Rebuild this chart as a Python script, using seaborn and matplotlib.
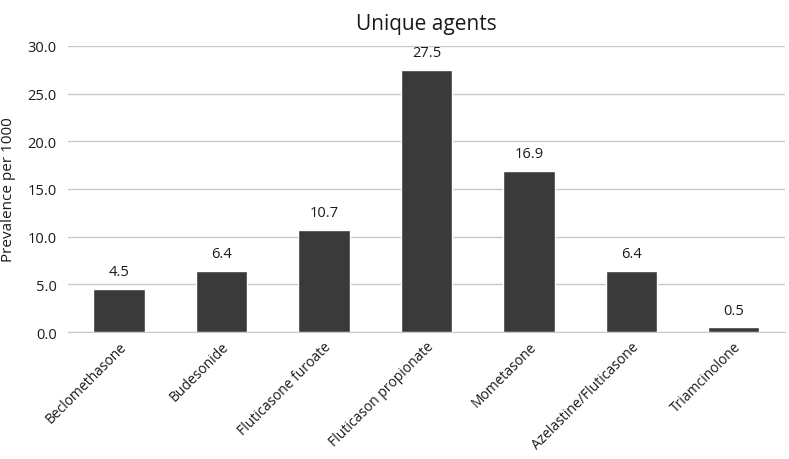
import matplotlib
matplotlib.use("Agg")
import matplotlib.pyplot as plt
import seaborn as sns
import pandas as pd

# Data
agents = ['Beclomethasone', 'Budesonide', 'Fluticasone furoate', 'Fluticason propionate',
          'Mometasone', 'Azelastine/Fluticasone', 'Triamcinolone']
prevalence = [4.5, 6.4, 10.7, 27.5, 16.9, 6.4, 0.5]
y_ticks = [0, 5, 10, 15, 20, 25, 30]

df = pd.DataFrame({'Agent': agents, 'Prevalence': prevalence})

sns.set_style('white')
plt.rcParams['font.family'] = ['Open Sans', 'DejaVu Sans']

fig = plt.figure(figsize=(7.89, 4.60), dpi=100)
ax = fig.add_axes([0.086, 0.276, 0.909, 0.622])

sns.barplot(data=df, x='Agent', y='Prevalence', color='#3a3a3a', width=0.5,
            saturation=1, ax=ax, zorder=3)

# value labels above bars
for i, v in enumerate(prevalence):
    ax.text(i, v + 1.8, f'{v:.1f}', ha='center', va='center', fontsize=10.5, color='#1a1a1a')

ax.set_ylim(0, 30)
ax.set_yticks(y_ticks)
ax.set_yticklabels([f'{t:.1f}' for t in y_ticks], fontsize=10.5, color='#1a1a1a')
ax.yaxis.grid(True, color='#c8c8c8', linewidth=1, zorder=0)
ax.set_axisbelow(True)
ax.tick_params(axis='y', length=0, pad=8)
ax.tick_params(axis='x', length=0, pad=5)

ax.set_xticks(range(len(agents)))
ax.set_xticklabels(agents, rotation=45, ha='right', rotation_mode='anchor',
                   fontsize=10, color='#1a1a1a')
ax.set_xlabel('')
ax.set_ylabel('Prevalence per 1000', fontsize=11, color='#1a1a1a', labelpad=8)
ax.set_title('Unique agents', fontsize=15, color='#1a1a1a', pad=12)

for side in ['top', 'right', 'left']:
    ax.spines[side].set_visible(False)
ax.spines['bottom'].set_color('#c8c8c8')

fig.savefig('out.png', dpi=100)
